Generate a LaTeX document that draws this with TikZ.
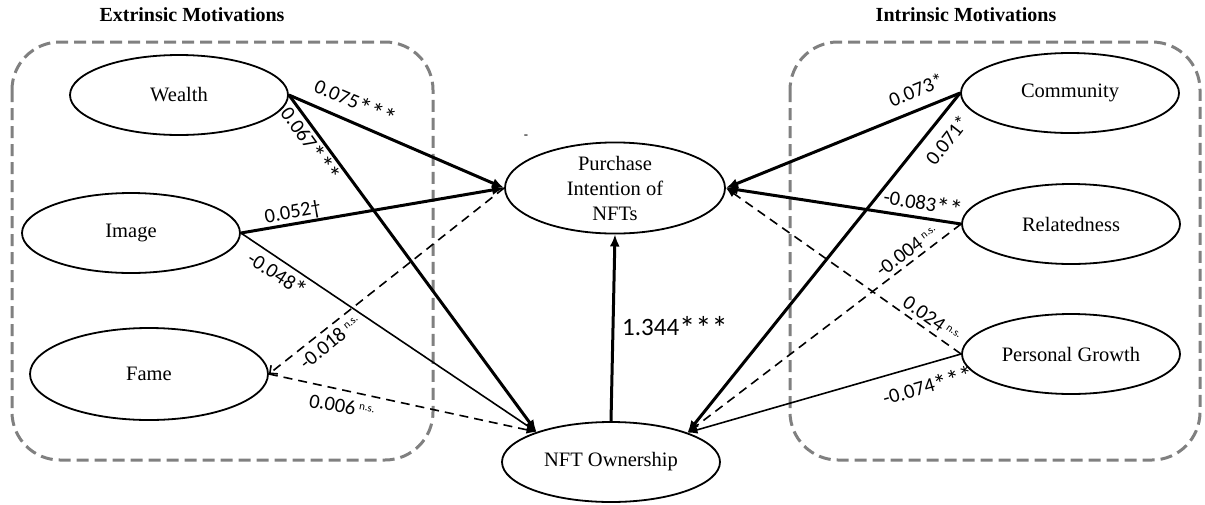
\documentclass[tikz,border=0pt]{standalone}
\usepackage{fontspec}
\setmainfont{Liberation Serif}
\newfontfamily\calibri{Carlito}
\usepackage{graphicx}
\usepackage{xcolor}
\usepackage{tikz}
\usetikzlibrary{arrows.meta, positioning, shapes.geometric}
\definecolor{BoxGray}{RGB}{128, 128, 128}
\newcommand{\nsmark}{\,\raisebox{0.6ex}{\fontsize{11}{11}\selectfont n.s.}}
\newcommand{\sg}{\raisebox{-0.35ex}{\scalebox{1.3}{*}}}

\begin{document}
\begin{tikzpicture}[x=1pt, y=-1pt,
    construct/.style={draw, ellipse, line width=1.8pt, minimum width=218pt, minimum height=80pt,
      inner sep=0pt, align=center, font=\fontsize{20.5}{25}\selectfont},
    groupbox/.style={draw=BoxGray, dash pattern=on 12pt off 6pt, line width=3pt, rounded corners=48pt},
    heavy/.style={line width=3pt, -{Latex[length=12pt,width=10pt]}},
    light/.style={line width=1.6pt, -{Latex[length=10pt,width=8pt]}},
    nsline/.style={line width=1.6pt, dash pattern=on 9pt off 6pt, -{Straight Barb[length=6pt,width=11pt]}},
    coef/.style={inner sep=0pt, font=\calibri\fontsize{20.5}{21}\selectfont},
    grouptitle/.style={font=\fontsize{20}{24}\selectfont\bfseries}]
  \useasboundingbox (0,0) rectangle (1205,504);

  % motivation groups
  \draw[groupbox] (12,42) rectangle (433,460);
  \draw[groupbox] (790,42) rectangle (1200,460);
  \node[grouptitle] (extTitle) at (192,15) {Extrinsic Motivations};
  \node[grouptitle] (intTitle) at (966,15) {Intrinsic Motivations};

  % constructs
  \node[construct] (wealth) at (179,95) {Wealth};
  \node[construct] (image) at (131,233) {Image};
  \node[construct, minimum width=238pt, minimum height=92pt] (fame) at (149,374) {Fame};
  \node[construct, minimum width=220pt, minimum height=84pt] (pi) at (615,188) {Purchase\\Intention of\\NFTs};
  \node[construct] (nft) at (611,462) {NFT Ownership};
  \node[construct] (comm) at (1070,93) {Community};
  \node[construct] (rel) at (1071,224) {Relatedness};
  \node[construct] (pg) at (1071,354) {Personal Growth};
  \node[inner sep=0pt, font=\calibri\fontsize{14}{14}\selectfont] (stray) at (526,137) {-};

  % paths, extrinsic side
  \draw[heavy] (wealth.east) -- (pi.west);
  \draw[heavy] (wealth.east) -- (nft.158);
  \draw[heavy] (image.east) -- (pi.west);
  \draw[light] (image.east) -- (nft.158);
  \draw[nsline] (pi.west) -- (fame.east);
  \draw[nsline, -{Latex[length=10pt,width=8pt]}] (fame.east) -- (nft.158);

  % paths, intrinsic side
  \draw[heavy] (comm.west) -- (pi.east);
  \draw[heavy] (comm.west) -- (nft.21);
  \draw[heavy] (rel.west) -- (pi.east);
  \draw[nsline, -{Latex[length=10pt,width=8pt]}] (rel.west) -- (nft.21);
  \draw[nsline, -{Latex[length=10pt,width=8pt]}] (pg.west) -- (pi.east);
  \draw[light] (pg.west) -- (nft.21);

  \draw[heavy] (nft.north) -- (pi.south);

  % coefficients
  \node[coef, rotate=-23] (cWP) at (355,103) {0.075\sg\sg\sg};
  \node[coef, rotate=-54] (cWN) at (310,145) {0.067\sg\sg\sg};
  \node[coef, rotate=10] (cIP) at (293,213) {0.052\textdagger};
  \node[coef, rotate=-33] (cIN) at (277,275) {-0.048\sg};
  \node[coef, rotate=39] (cFP) at (330,342) {-0.018\nsmark};
  \node[coef, rotate=-10] (cFN) at (342,406) {0.006\nsmark};
  \node[coef, rotate=22] (cCP) at (916,90) {0.073*};
  \node[coef, rotate=52] (cCN) at (947,140) {0.071*};
  \node[coef, rotate=-9] (cRP) at (923,204) {-0.083\sg\sg};
  \node[coef, rotate=37] (cRN) at (907,251) {-0.004\nsmark};
  \node[coef, rotate=-35] (cGP) at (932,319) {0.024\nsmark};
  \node[coef, rotate=16] (cGN) at (928,387) {-0.074\sg\sg\sg};
  \node[coef, anchor=west, font=\calibri\fontsize{25}{26}\selectfont] (cNP) at (622,328) {1.344\sg\sg\sg};
\end{tikzpicture}
\end{document}
